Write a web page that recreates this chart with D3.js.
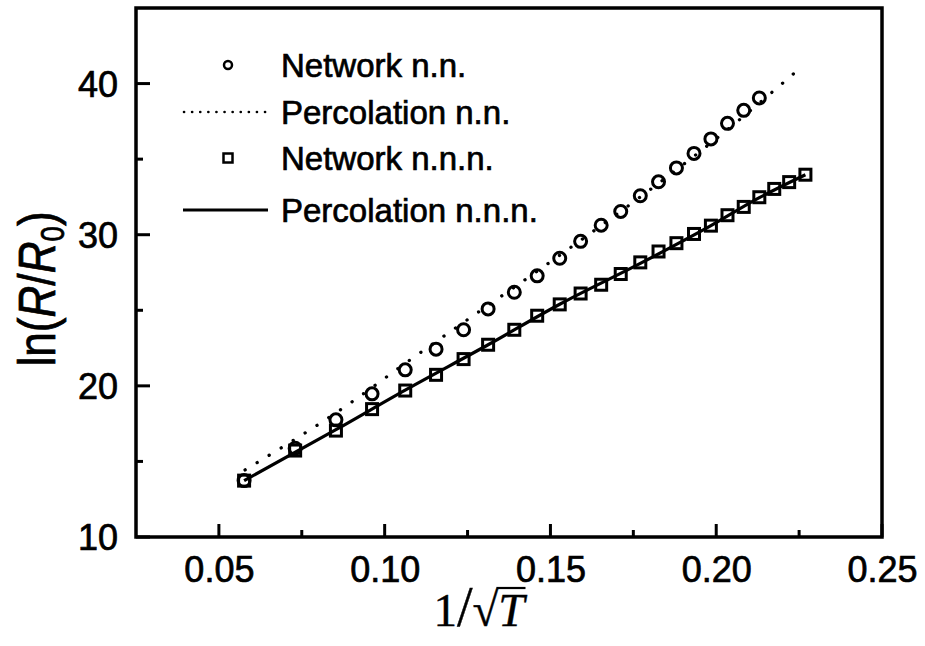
<!DOCTYPE html>
<html>
<head>
<meta charset="utf-8">
<script src="https://cdn.jsdelivr.net/npm/d3@7"></script>
<style>
  body { margin: 0; background: #fff; }
  text { font-family: "Liberation Sans", Arial, sans-serif; fill: #000; stroke: #000; stroke-width: 0.7px; }
</style>
</head>
<body>
<div class="chart"></div>
<script>
// 1/sqrt(T) positions of the simulated points
var invT = [0.0576, 0.0730, 0.0853, 0.0962, 0.1062, 0.1155, 0.1238, 0.1312, 0.1391, 0.1460,
            0.1528, 0.1591, 0.1653, 0.1712, 0.1771, 0.1826, 0.1880, 0.1933, 0.1984, 0.2034,
            0.2083, 0.2130, 0.2175, 0.2220, 0.2269]

// Network n.n. (circles), first 22 temperatures
var lnRnn = [13.73, 15.87, 17.75, 19.47, 21.06, 22.43, 23.71, 25.09, 26.19, 27.28,
             28.44, 29.56, 30.63, 31.54, 32.58, 33.50, 34.42, 35.38, 36.34, 37.37,
             38.23, 39.05]

// Network n.n.n. (squares)
var lnRnnn = [13.73, 15.72, 17.04, 18.46, 19.69, 20.73, 21.77, 22.72, 23.71, 24.64,
              25.39, 26.11, 26.69, 27.40, 28.17, 28.89, 29.44, 30.05, 30.60, 31.29,
              31.84, 32.48, 33.03, 33.48, 33.97]

// Percolation curves
var percNNx = [0.0579, 0.0881, 0.1077, 0.1278, 0.1424, 0.1551, 0.1731, 0.1826, 0.2000, 0.2248]
var percNNy = [14.44, 18.63, 21.72, 24.81, 27.03, 29.00, 31.85, 33.40, 36.35, 40.93]
var percNNNx = [0.0576, 0.0853, 0.1062, 0.1312, 0.1528, 0.1771, 0.1984, 0.2130, 0.2269]
var percNNNy = [13.73, 17.10, 19.72, 22.72, 25.40, 28.10, 30.60, 32.45, 33.97]

var xMajor = [0.05, 0.10, 0.15, 0.20, 0.25]
var xMinor = [0.075, 0.125, 0.175, 0.225]
var yMajor = [10, 20, 30, 40]
var yMinor = [15, 25, 35]

var legendLabels = ['Network n.n.', 'Percolation n.n.', 'Network n.n.n.', 'Percolation n.n.n.']

var svgWidth = 925
var svgHeight = 646
var plot = { left: 136, right: 882, top: 8, bottom: 537 }

var svg = d3.select('.chart')
    .append('svg')
    .attr('width', svgWidth)
    .attr('height', svgHeight)

var x = d3.scaleLinear().domain([0.025, 0.25]).range([plot.left, plot.right])
var y = d3.scaleLinear().domain([10, 45]).range([plot.bottom, plot.top])

function styleAxis(g) {
    g.select('.domain').remove()
    g.selectAll('line').remove()
    g.selectAll('text').attr('font-size', '36px').attr('fill', '#000')
        .style('font-family', '"Liberation Sans", Arial, sans-serif')
}

// tick labels from d3 axes
svg.append('g')
    .attr('transform', `translate(0, ${plot.bottom})`)
    .call(d3.axisBottom(x).tickValues(xMajor).tickSize(0).tickPadding(19)
        .tickFormat(d3.format('.2f')))
    .call(styleAxis)
svg.append('g')
    .attr('transform', `translate(${plot.left}, 0)`)
    .call(d3.axisLeft(y).tickValues(yMajor).tickSize(0).tickPadding(18))
    .call(styleAxis)
    .call(g => g.selectAll('text').attr('dy', '0.36em'))

// inward tick marks
var ticks = svg.append('g').attr('stroke', '#000').attr('stroke-width', 3)
ticks.selectAll('.xt')
    .data(xMajor.map(v => [v, 13]).concat(xMinor.map(v => [v, 7])))
    .enter().append('line')
    .attr('x1', d => x(d[0])).attr('x2', d => x(d[0]))
    .attr('y1', plot.bottom).attr('y2', d => plot.bottom - d[1])
ticks.selectAll('.yt')
    .data(yMajor.map(v => [v, 14]).concat(yMinor.map(v => [v, 7])))
    .enter().append('line')
    .attr('x1', plot.left).attr('x2', d => plot.left + d[1])
    .attr('y1', d => y(d[0])).attr('y2', d => y(d[0]))

// frame
svg.append('rect')
    .attr('x', plot.left)
    .attr('y', plot.top)
    .attr('width', plot.right - plot.left)
    .attr('height', plot.bottom - plot.top)
    .attr('fill', 'none')
    .attr('stroke', '#000')
    .attr('stroke-width', 3.5)

// curves
var line = d3.line().x(d => x(d[0])).y(d => y(d[1])).curve(d3.curveMonotoneX)

svg.append('path')
    .datum(d3.zip(percNNx, percNNy))
    .attr('d', line)
    .attr('fill', 'none')
    .attr('stroke', '#000')
    .attr('stroke-width', 3.3)
    .attr('stroke-linecap', 'round')
    .attr('stroke-dasharray', '0.1 14')

svg.append('path')
    .datum(d3.zip(percNNNx, percNNNy))
    .attr('d', line)
    .attr('fill', 'none')
    .attr('stroke', '#000')
    .attr('stroke-width', 3.2)

// squares
var sq = 11
svg.append('g').selectAll('rect')
    .data(d3.zip(invT, lnRnnn))
    .enter().append('rect')
    .attr('x', d => x(d[0]) - sq / 2)
    .attr('y', d => y(d[1]) - sq / 2)
    .attr('width', sq)
    .attr('height', sq)
    .attr('fill', 'none')
    .attr('stroke', '#000')
    .attr('stroke-width', 3)

// circles
svg.append('g').selectAll('circle')
    .data(d3.zip(invT.slice(0, lnRnn.length), lnRnn))
    .enter().append('circle')
    .attr('cx', d => x(d[0]))
    .attr('cy', d => y(d[1]))
    .attr('r', 6)
    .attr('fill', 'none')
    .attr('stroke', '#000')
    .attr('stroke-width', 3)

// legend
var legendY = [65, 112, 158, 210]
var legend = svg.append('g')

legend.append('circle')
    .attr('cx', 228).attr('cy', legendY[0]).attr('r', 4)
    .attr('fill', 'none').attr('stroke', '#000').attr('stroke-width', 2.5)
legend.append('line')
    .attr('x1', 184).attr('x2', 267).attr('y1', legendY[1]).attr('y2', legendY[1])
    .attr('stroke', '#000').attr('stroke-width', 2.6)
    .attr('stroke-linecap', 'round').attr('stroke-dasharray', '0.1 8')
legend.append('rect')
    .attr('x', 223.5).attr('y', legendY[2] - 4.5).attr('width', 9).attr('height', 9)
    .attr('fill', 'none').attr('stroke', '#000').attr('stroke-width', 2.5)
legend.append('line')
    .attr('x1', 183).attr('x2', 268).attr('y1', legendY[3]).attr('y2', legendY[3])
    .attr('stroke', '#000').attr('stroke-width', 3.2)

legendLabels.forEach((t, i) => {
    legend.append('text')
        .attr('x', 281)
        .attr('y', legendY[i])
        .attr('dy', '0.36em')
        .attr('font-size', '33px')
        .text(t)
})

// y label: ln(R/R0)
var ylab = svg.append('text')
    .attr('transform', 'translate(55, 289) rotate(-90) scale(0.92, 1.08)')
    .attr('text-anchor', 'middle')
    .attr('font-size', '48px')
ylab.append('tspan').text('ln(')
ylab.append('tspan').attr('font-style', 'italic').text('R')
ylab.append('tspan').text('/')
ylab.append('tspan').attr('font-style', 'italic').text('R')
ylab.append('tspan').attr('font-size', '30px').attr('dy', 8).text('0')
ylab.append('tspan').attr('dy', -8).text(')')

// x label: 1/sqrt(T)
var xlab = svg.append('text')
    .attr('x', 479)
    .attr('y', 626)
    .attr('text-anchor', 'middle')
    .attr('font-size', '47px')
    .style('font-family', '"Liberation Serif", "Times New Roman", serif')
    .style('stroke-width', '0.4px')
xlab.append('tspan').text('1')
xlab.append('tspan').attr('font-size', '56px').text('/')
xlab.append('tspan').text('\u221A')
xlab.append('tspan').attr('font-style', 'italic').text('T')

var node = xlab.node()
var ext = node.getExtentOfChar(3)
var rootExt = node.getExtentOfChar(2)
svg.append('line')
    .attr('x1', rootExt.x + rootExt.width - 2)
    .attr('x2', ext.x + ext.width + 1)
    .attr('y1', 626 - 38)
    .attr('y2', 626 - 38)
    .attr('stroke', '#000')
    .attr('stroke-width', 2.2)
</script>
</body>
</html>
